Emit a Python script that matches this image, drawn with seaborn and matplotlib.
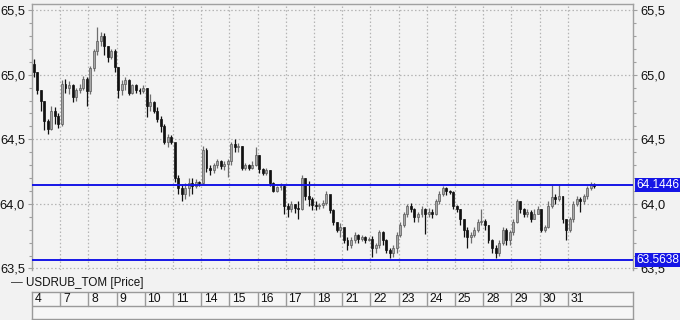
import matplotlib
matplotlib.use("Agg")
import matplotlib.pyplot as plt
import matplotlib.transforms as mtransforms
from matplotlib.ticker import MultipleLocator, FuncFormatter
import numpy as np
import pandas as pd
import seaborn as sns

# ---------------- data ----------------
day_labels = ["4", "7", "8", "9", "10", "11", "14", "15", "16", "17",
              "18", "21", "22", "23", "24", "25", "28", "29", "30", "31"]
candles_per_day = 8
series_name = "USDRUB_TOM [Price]"
first_open = 65.08

closes = [
    65.02, 64.88, 64.80, 64.64, 64.58, 64.72, 64.68, 64.62,   # 4
    64.93, 64.90, 64.92, 64.83, 64.88, 64.90, 64.97, 64.87,   # 7
    65.05, 65.18, 65.26, 65.30, 65.22, 65.14, 65.18, 65.06,   # 8
    64.88, 64.93, 64.96, 64.86, 64.92, 64.88, 64.87, 64.90,   # 9
    64.76, 64.79, 64.72, 64.66, 64.60, 64.48, 64.52, 64.48,   # 10
    64.20, 64.12, 64.08, 64.12, 64.16, 64.14, 64.17, 64.16,   # 11
    64.42, 64.28, 64.26, 64.30, 64.33, 64.29, 64.31, 64.33,   # 14
    64.46, 64.44, 64.45, 64.28, 64.30, 64.28, 64.30, 64.38,   # 15
    64.27, 64.24, 64.26, 64.16, 64.10, 64.13, 64.14, 63.98,   # 16
    63.96, 64.00, 63.97, 63.96, 64.20, 64.06, 64.04, 63.99,   # 17
    63.98, 63.99, 64.01, 64.08, 63.95, 63.86, 63.80, 63.82,   # 18
    63.72, 63.68, 63.72, 63.76, 63.73, 63.74, 63.72, 63.73,   # 21
    63.66, 63.68, 63.78, 63.72, 63.64, 63.62, 63.66, 63.76,   # 22
    63.84, 63.92, 63.98, 63.96, 63.90, 63.92, 63.96, 63.92,   # 23
    63.94, 63.92, 64.02, 64.08, 64.12, 64.10, 64.09, 63.98,   # 24
    63.96, 63.88, 63.80, 63.74, 63.76, 63.80, 63.86, 63.87,   # 25
    63.84, 63.72, 63.66, 63.62, 63.70, 63.80, 63.72, 63.78,   # 28
    63.86, 64.02, 63.96, 63.92, 63.94, 63.88, 63.92, 63.96,   # 29
    63.80, 63.82, 63.98, 64.05, 64.04, 64.06, 63.88, 63.80,   # 30
    63.88, 64.00, 64.04, 64.02, 64.06, 64.12, 64.15, 64.14,   # 31
]
highs = [
    65.12, 65.02, 64.88, 64.80, 64.66, 64.76, 64.75, 64.70,
    64.96, 64.97, 64.95, 64.93, 64.90, 64.93, 64.99, 64.98,
    65.07, 65.20, 65.37, 65.33, 65.32, 65.22, 65.20, 65.20,
    65.06, 64.96, 64.98, 64.97, 64.93, 64.93, 64.90, 64.92,
    64.90, 64.85, 64.80, 64.75, 64.68, 64.62, 64.54, 64.53,
    64.36, 64.22, 64.15, 64.16, 64.20, 64.20, 64.19, 64.18,
    64.45, 64.43, 64.30, 64.32, 64.35, 64.34, 64.33, 64.35,
    64.48, 64.50, 64.47, 64.45, 64.32, 64.31, 64.33, 64.44,
    64.38, 64.28, 64.28, 64.26, 64.17, 64.14, 64.16, 64.15,
    64.01, 64.02, 64.00, 64.02, 64.22, 64.20, 64.18, 64.05,
    64.02, 64.01, 64.03, 64.10, 64.06, 63.96, 63.86, 63.85,
    63.80, 63.74, 63.74, 63.78, 63.77, 63.76, 63.75, 63.74,
    63.75, 63.70, 63.80, 63.79, 63.73, 63.66, 63.68, 63.78,
    63.86, 63.94, 64.00, 64.01, 63.97, 63.94, 63.98, 63.97,
    63.97, 63.96, 64.04, 64.10, 64.14, 64.13, 64.11, 64.10,
    63.99, 63.96, 63.88, 63.82, 63.78, 63.82, 63.88, 63.96,
    63.88, 63.84, 63.73, 63.68, 63.72, 63.82, 63.81, 63.80,
    63.88, 64.04, 64.02, 63.97, 63.96, 63.95, 63.96, 63.98,
    63.96, 63.84, 64.02, 64.15, 64.08, 64.15, 64.06, 63.88,
    63.90, 64.02, 64.06, 64.05, 64.08, 64.14, 64.17, 64.16,
]
lows = [
    64.98, 64.85, 64.72, 64.57, 64.54, 64.57, 64.62, 64.59,
    64.60, 64.86, 64.85, 64.79, 64.80, 64.86, 64.88, 64.76,
    64.85, 65.03, 65.15, 65.22, 65.15, 65.10, 65.12, 65.02,
    64.82, 64.84, 64.88, 64.84, 64.85, 64.86, 64.85, 64.86,
    64.67, 64.72, 64.70, 64.63, 64.56, 64.46, 64.44, 64.46,
    64.17, 64.08, 64.02, 64.04, 64.06, 64.08, 64.12, 64.14,
    64.15, 64.25, 64.22, 64.24, 64.28, 64.27, 64.26, 64.21,
    64.30, 64.40, 64.40, 64.26, 64.26, 64.26, 64.27, 64.29,
    64.24, 64.22, 64.22, 64.14, 64.09, 64.09, 64.11, 63.92,
    63.90, 63.94, 63.93, 63.88, 63.95, 64.03, 63.98, 63.95,
    63.95, 63.96, 63.97, 63.99, 63.93, 63.84, 63.78, 63.74,
    63.70, 63.64, 63.66, 63.70, 63.70, 63.71, 63.70, 63.71,
    63.59, 63.62, 63.66, 63.68, 63.62, 63.58, 63.59, 63.62,
    63.74, 63.82, 63.90, 63.94, 63.86, 63.86, 63.90, 63.77,
    63.90, 63.89, 63.91, 64.00, 64.06, 64.07, 64.08, 63.96,
    63.94, 63.84, 63.74, 63.66, 63.70, 63.74, 63.78, 63.84,
    63.80, 63.70, 63.62, 63.58, 63.60, 63.68, 63.68, 63.68,
    63.76, 63.85, 63.93, 63.90, 63.90, 63.86, 63.88, 63.92,
    63.78, 63.78, 63.81, 63.97, 64.00, 64.02, 63.85, 63.72,
    63.78, 63.86, 63.98, 63.94, 64.00, 64.04, 64.11, 64.12,
]
level_high = 64.1446
level_low = 63.5638
y_ticks = [63.5, 64.0, 64.5, 65.0, 65.5]

# ---------------- frame ----------------
opens = [first_open] + closes[:-1]
df = pd.DataFrame({"open": opens, "high": highs, "low": lows, "close": closes})
df["x"] = np.arange(len(df)) + 0.5
df["up"] = df["close"] >= df["open"]

sns.set_theme(style="white")
plt.rcParams["font.family"] = ["Liberation Sans", "DejaVu Sans"]

W, H = 680, 320
fig = plt.figure(figsize=(W / 100, H / 100), dpi=100, facecolor="#f2f2f2")

def px_axes(x0, y0, x1, y1):
    return fig.add_axes([x0 / W, 1 - y1 / H, (x1 - x0) / W, (y1 - y0) / H])

ax = px_axes(32, 4, 633, 269.5)
ax.set_facecolor("#f3f3f3")
n_days = len(day_labels)
xmax = 601 / 28.2 * candles_per_day
ax.set_xlim(0, xmax)
ax.set_ylim(63.492, 65.547)

# grid
for yv in y_ticks:
    ax.axhline(yv, color="#b4b4b4", lw=0.9, ls=(0, (1.2, 1.8)), zorder=0)
for d in range(1, n_days):
    ax.axvline(d * candles_per_day, color="#b4b4b4", lw=0.9, ls=(0, (1.2, 1.8)), zorder=0)

# candles
up = df[df["up"]]
dn = df[~df["up"]]
ax.vlines(up["x"], up["low"], up["high"], color="#6e6e6e", lw=0.9, zorder=2)
ax.vlines(dn["x"], dn["low"], dn["high"], color="#111111", lw=0.9, zorder=2)
ax.bar(up["x"], (up["close"] - up["open"]).clip(lower=0.004), bottom=up["open"],
       width=0.55, color="#a8a8a8", edgecolor="#5a5a5a", linewidth=0.5, zorder=3)
ax.bar(dn["x"], (dn["open"] - dn["close"]).clip(lower=0.004), bottom=dn["close"],
       width=0.55, color="#111111", edgecolor="#111111", linewidth=0.5, zorder=3)

# levels
trans = mtransforms.blended_transform_factory(ax.transAxes, ax.transData)
for lv in (level_high, level_low):
    ax.axhline(lv, color="#1515e6", lw=1.4, zorder=4)
    ax.text(1.005, lv, f"{lv:.4f}", transform=trans, ha="left", va="center",
            color="white", fontsize=8.6, zorder=10, clip_on=False,
            bbox=dict(boxstyle="square,pad=0.1", fc="#1515e6", ec="none"))

# axes styling
for s in ("left", "right", "top"):
    ax.spines[s].set_color("#a0a0a0")
    ax.spines[s].set_linewidth(1.0)
ax.spines["bottom"].set_visible(False)
ax.set_xticks([])
ax.yaxis.set_major_locator(MultipleLocator(0.5))
ax.yaxis.set_minor_locator(MultipleLocator(0.1))
fmt = FuncFormatter(lambda v, p: f"{v:.1f}".replace(".", ","))
ax.yaxis.set_major_formatter(fmt)
ax.tick_params(axis="y", which="both", left=True, right=True, labelleft=True,
               labelright=True, direction="out", color="#a0a0a0",
               labelsize=9.3, labelcolor="#111111", pad=2)
ax.tick_params(axis="y", which="major", length=3, width=0.8)
ax.tick_params(axis="y", which="minor", length=2.5, width=0.8)

# legend line
fig.text(11 / W, 1 - 283 / H, "—", fontsize=8.5, color="#333333", va="center", ha="left")
fig.text(26 / W, 1 - 283 / H, series_name, fontsize=8.4, color="#111111",
         va="center", ha="left")

# date strip
ax2 = px_axes(32, 292, 633, 319)
ax2.set_facecolor("#f6f6f6")
ax2.set_xlim(0, xmax)
ax2.set_ylim(0, 2)
ax2.set_xticks([])
ax2.set_yticks([])
for s in ax2.spines.values():
    s.set_color("#9a9a9a")
    s.set_linewidth(1.0)
ax2.axhline(1, color="#9a9a9a", lw=1.0)
for d, lab in enumerate(day_labels):
    if d > 0:
        ax2.plot([d * candles_per_day] * 2, [1, 2], color="#9a9a9a", lw=1.0)
    ax2.text(d * candles_per_day + 0.8, 1.48, lab, fontsize=8.8, color="#111111",
             ha="left", va="center")

fig.savefig("out.png", dpi=100, facecolor=fig.get_facecolor())
